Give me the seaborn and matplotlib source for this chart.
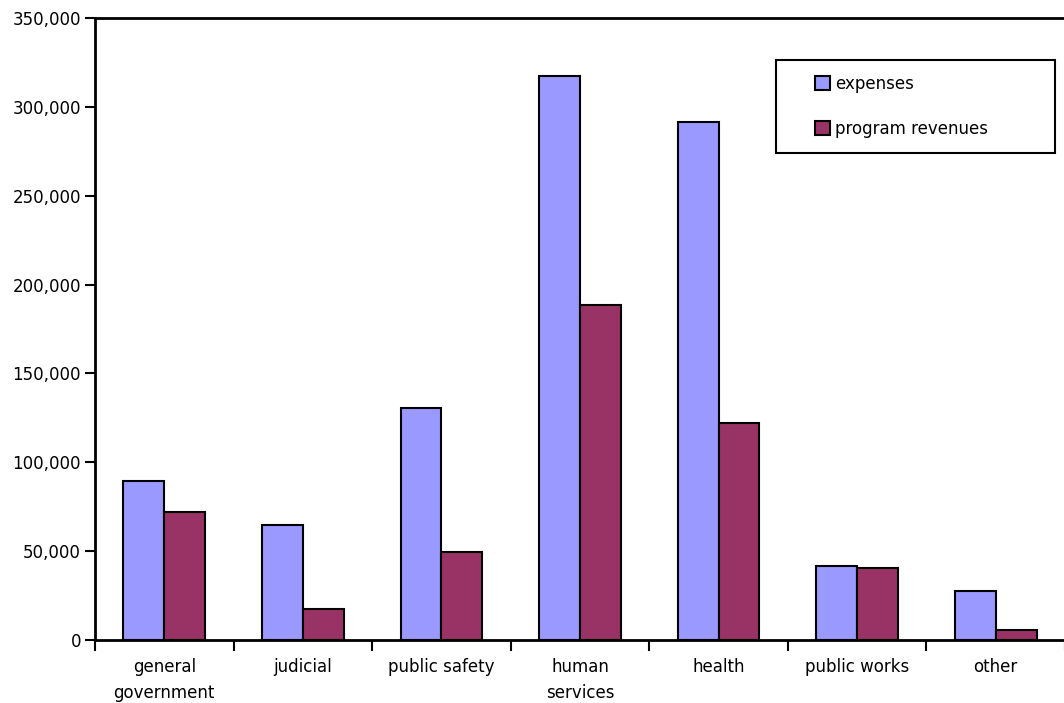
import pandas as pd
import seaborn as sns
import matplotlib.pyplot as plt
from matplotlib.patches import Rectangle, Patch
from matplotlib.ticker import FuncFormatter, FixedLocator

# datos
categorias = ['general\ngovernment', 'judicial', 'public safety', 'human\nservices',
              'health', 'public works', 'other']
expenses = [89500, 64700, 130500, 317400, 291500, 41600, 27600]
program_revenues = [72000, 17400, 49500, 188500, 122000, 40500, 5600]
series = ['expenses', 'program revenues']
colores = ['#9999FF', '#993366']

df = pd.DataFrame({
    'categoria': categorias * 2,
    'serie': [series[0]] * len(categorias) + [series[1]] * len(categorias),
    'valor': expenses + program_revenues,
})

sns.set_style('white')
plt.rcParams['font.family'] = ['DejaVu Sans']
plt.rcParams['font.size'] = 12
plt.rcParams['text.color'] = 'black'

fig = plt.figure(figsize=(10.64, 7.03), dpi=100)
ax = fig.add_axes([95 / 1064, 63 / 703, 970 / 1064, 622 / 703])

sns.barplot(data=df, x='categoria', y='valor', hue='serie', palette=colores,
            width=0.59, edgecolor='black', linewidth=1.5, saturation=1,
            legend=False, ax=ax)

ax.set_xlim(-0.5, len(categorias) - 0.5)
ax.set_ylim(0, 350000)
ax.set_yticks(range(0, 350001, 50000))
ax.yaxis.set_major_formatter(FuncFormatter(lambda v, p: f'{int(v):,}'))
ax.set_xlabel('')
ax.set_ylabel('')

# ticks del eje x entre categorias
ax.xaxis.set_minor_locator(FixedLocator([i - 0.5 for i in range(len(categorias) + 1)]))
ax.tick_params(axis='x', which='major', length=0, pad=13, labelsize=12, colors='black')
ax.tick_params(axis='x', which='minor', length=8, width=1.5, direction='out', bottom=True, color='black')
ax.tick_params(axis='y', which='major', length=7, width=1.5, direction='out', left=True, pad=3,
               labelsize=12, colors='black')
for etiqueta in ax.get_xticklabels():
    etiqueta.set_linespacing(1.6)

for lado in ['left', 'bottom', 'top']:
    ax.spines[lado].set_visible(True)
    ax.spines[lado].set_color('black')
    ax.spines[lado].set_linewidth(2)
ax.spines['right'].set_visible(False)
ax.grid(False)

# leyenda
fig.patches.append(Rectangle((776 / 1064, 1 - 153 / 703), 279 / 1064, 93 / 703,
                             transform=fig.transFigure, facecolor='white',
                             edgecolor='black', linewidth=1.5, zorder=5))
handles = [Patch(facecolor=c, edgecolor='black', linewidth=1.5) for c in colores]
leg = fig.legend(handles, series, loc='upper left', bbox_to_anchor=(800 / 1064, 1 - 60 / 703),
                 frameon=False, handlelength=0.9, handleheight=0.9, handletextpad=0.3,
                 labelspacing=1.6, fontsize=12, labelcolor='black')
leg.set_zorder(6)

fig.savefig('out.png', dpi=100)
